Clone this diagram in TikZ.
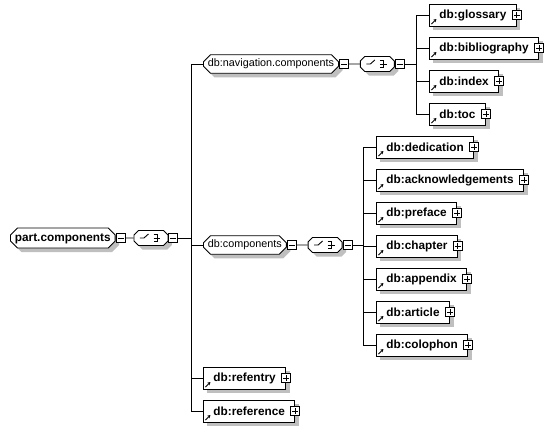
\documentclass[tikz,border=0pt]{standalone}
\usepackage{fontspec}
\setmainfont{Liberation Sans}
\usetikzlibrary{arrows.meta, positioning, shapes.misc, shadows}

\begin{document}
\begin{tikzpicture}[
    x=1pt, y=-1pt,
    node distance=0pt,
    shade/.style={drop shadow={shadow xshift=4pt, shadow yshift=-4pt, fill=black!25, opacity=1}},
    grp/.style={chamfered rectangle, chamfered rectangle xsep=3.5pt, chamfered rectangle ysep=3.5pt, draw, line width=0.9pt, fill=white, shade, inner xsep=1pt, inner ysep=0.5pt, text height=8pt, text depth=2.5pt, font=\fontsize{10.8}{12}\selectfont},
    grpb/.style={grp, inner ysep=1pt, text height=8.5pt, text depth=2.5pt, font=\fontsize{11.8}{13}\selectfont\bfseries},
    % sequence compositor with its little symbol
    seqbox/.style={grp, inner ysep=1pt, text height=8.5pt, text depth=2.5pt, minimum width=34pt, path picture={
        \coordinate (sc) at (path picture bounding box.center);
        \draw[line width=0.9pt] ([xshift=-11pt]sc) -- ([xshift=-7pt]sc) -- ([xshift=-2.5pt, yshift=4pt]sc);
        \fill ([xshift=0pt, yshift=2.4pt]sc) rectangle ++(2.6pt,2.2pt);
        \fill ([xshift=0pt, yshift=-1.1pt]sc) rectangle ++(2.6pt,2.2pt);
        \fill ([xshift=0pt, yshift=-4.6pt]sc) rectangle ++(2.6pt,2.2pt);
        \draw[line width=0.8pt] ([xshift=2.6pt, yshift=3.5pt]sc) -- ([xshift=6pt, yshift=3.5pt]sc) -- ([xshift=6pt, yshift=-3.5pt]sc) -- ([xshift=2.6pt, yshift=-3.5pt]sc);
        \draw[line width=0.8pt] ([xshift=2.6pt]sc) -- ([xshift=9.5pt]sc);
    }},
    mbox/.style={rectangle, draw, line width=0.9pt, fill=white, inner sep=0pt, minimum size=9pt, path picture={
        \draw[line width=0.9pt] ([xshift=1.5pt]path picture bounding box.west) -- ([xshift=-1.5pt]path picture bounding box.east);
    }},
    pbox/.style={rectangle, draw, line width=0.9pt, fill=white, inner sep=0pt, minimum size=9pt, path picture={
        \draw[line width=0.9pt] ([xshift=1.5pt]path picture bounding box.west) -- ([xshift=-1.5pt]path picture bounding box.east);
        \draw[line width=0.9pt] ([yshift=-1.5pt]path picture bounding box.north) -- ([yshift=1.5pt]path picture bounding box.south);
    }},
    elem/.style={rectangle, draw, line width=0.9pt, fill=white, shade, inner xsep=10pt, inner ysep=0pt, minimum height=22pt, font=\fontsize{11.8}{13}\selectfont\bfseries,
        path picture={
        \draw[line width=0.9pt, -{Stealth[length=3pt, width=3.4pt]}] ([shift={(2pt,2pt)}]path picture bounding box.south west) -- ++(5pt,5pt);
        },
        append after command={node[pbox] (\tikzlastnode-p) at (\tikzlastnode.east) {}}},
    conn/.style={draw=black, line width=0.9pt}
]
    \useasboundingbox (0,0) rectangle (549,431);

    % --- root group ---
    \node[grpb, anchor=west] (part) at (10,238) {part.components};
    \node[mbox, right=0pt of part] (partm) {};
    \node[seqbox, right=8pt of partm] (seq0) {};
    \node[mbox, right=0pt of seq0] (seq0m) {};
    \coordinate[right=13pt of seq0m] (bus0);

    % --- navigation branch ---
    \node[grp, anchor=west] (navcomp) at (203,64) {db:navigation.components};
    \node[mbox, right=0pt of navcomp] (navm) {};
    \node[seqbox, right=11pt of navm] (seq1) {};
    \node[mbox, right=0pt of seq1] (seq1m) {};
    \coordinate[right=12pt of seq1m] (bus1);

    \node[elem, anchor=west] (glossary) at (429,15) {db:glossary};
    \node[elem, anchor=west] (bibliography) at (429,48) {db:bibliography};
    \node[elem, anchor=west] (index) at (429,81) {db:index};
    \node[elem, anchor=west] (toc) at (429,114) {db:toc};

    % --- components branch ---
    \node[grp, anchor=west] (comp) at (203,245) {db:components};
    \node[mbox, right=0pt of comp] (compm) {};
    \node[seqbox, right=11pt of compm] (seq2) {};
    \node[mbox, right=0pt of seq2] (seq2m) {};
    \coordinate[right=11pt of seq2m] (bus2);

    \node[elem, anchor=west] (dedication) at (376,147) {db:dedication};
    \node[elem, anchor=west] (acknowledgements) at (376,180) {db:acknowledgements};
    \node[elem, anchor=west] (preface) at (376,213) {db:preface};
    \node[elem, anchor=west] (chapter) at (376,246) {db:chapter};
    \node[elem, anchor=west] (appendix) at (376,279) {db:appendix};
    \node[elem, anchor=west] (article) at (376,312) {db:article};
    \node[elem, anchor=west] (colophon) at (376,345) {db:colophon};

    % --- single elements ---
    \node[elem, anchor=west] (refentry) at (203,378) {db:refentry};
    \node[elem, anchor=west] (reference) at (203,411) {db:reference};

    % --- Connections ---
    \draw[conn] (partm) -- (seq0);
    \draw[conn] (seq0m) -- (bus0);
    \draw[conn] (bus0) |- (navcomp);
    \draw[conn] (bus0) |- (comp);
    \draw[conn] (bus0) |- (refentry);
    \draw[conn] (bus0) |- (reference);

    \draw[conn] (navm) -- (seq1);
    \draw[conn] (seq1m) -- (bus1);
    \draw[conn] (bus1) |- (glossary);
    \draw[conn] (bus1) |- (bibliography);
    \draw[conn] (bus1) |- (index);
    \draw[conn] (bus1) |- (toc);

    \draw[conn] (compm) -- (seq2);
    \draw[conn] (seq2m) -- (bus2);
    \draw[conn] (bus2) |- (dedication);
    \draw[conn] (bus2) |- (acknowledgements);
    \draw[conn] (bus2) |- (preface);
    \draw[conn] (bus2) |- (chapter);
    \draw[conn] (bus2) |- (appendix);
    \draw[conn] (bus2) |- (article);
    \draw[conn] (bus2) |- (colophon);

\end{tikzpicture}
\end{document}
